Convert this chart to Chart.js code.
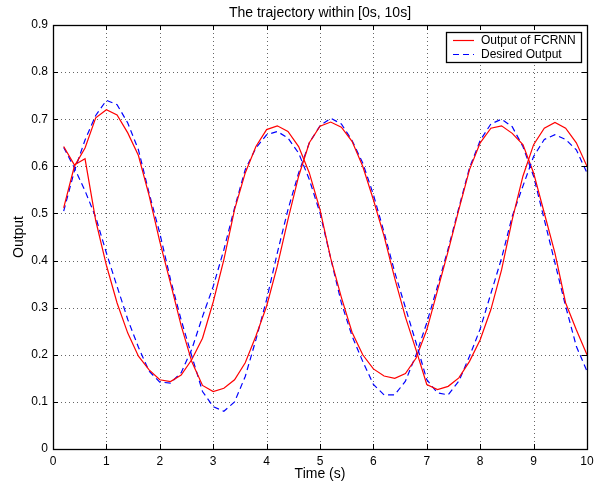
<!DOCTYPE html>
<html>
<head>
<meta charset="utf-8">
<script src="https://cdn.jsdelivr.net/npm/chart.js@4/dist/chart.umd.min.js"></script>
<style>
  html, body { margin: 0; padding: 0; background: #fff; }
  canvas { display: block; }
</style>
</head>
<body>
<canvas id="myChart" width="599" height="484"></canvas>
<script>
// time samples (s)
const tempos = [0.2, 0.4, 0.6, 0.8, 1.0, 1.2, 1.4, 1.6, 1.8, 2.0,
                2.2, 2.4, 2.6, 2.8, 3.0, 3.2, 3.4, 3.6, 3.8, 4.0,
                4.2, 4.4, 4.6, 4.8, 5.0, 5.2, 5.4, 5.6, 5.8, 6.0,
                6.2, 6.4, 6.6, 6.8, 7.0, 7.2, 7.4, 7.6, 7.8, 8.0,
                8.2, 8.4, 8.6, 8.8, 9.0, 9.2, 9.4, 9.6, 9.8, 10.0];

// FCRNN output, first trajectory
const saidaRede1 = [0.512, 0.600, 0.639, 0.703, 0.720, 0.709, 0.671, 0.623, 0.538, 0.440,
                    0.352, 0.262, 0.185, 0.135, 0.122, 0.129, 0.147, 0.183, 0.240, 0.303,
                    0.388, 0.487, 0.579, 0.650, 0.685, 0.694, 0.683, 0.653, 0.600, 0.529,
                    0.452, 0.362, 0.280, 0.210, 0.137, 0.126, 0.133, 0.151, 0.186, 0.232,
                    0.296, 0.380, 0.487, 0.579, 0.646, 0.681, 0.693, 0.681, 0.650, 0.600];

// FCRNN output, second trajectory
const saidaRede2 = [0.642, 0.603, 0.616, 0.485, 0.390, 0.310, 0.246, 0.197, 0.168, 0.147,
                    0.143, 0.157, 0.190, 0.235, 0.312, 0.402, 0.508, 0.586, 0.642, 0.678,
                    0.686, 0.674, 0.642, 0.586, 0.508, 0.405, 0.322, 0.248, 0.200, 0.170,
                    0.155, 0.150, 0.160, 0.193, 0.253, 0.336, 0.420, 0.508, 0.593, 0.650,
                    0.681, 0.686, 0.670, 0.646, 0.586, 0.501, 0.416, 0.310, 0.253, 0.200];

// desired output, first trajectory
const desejada1 = [0.505, 0.590, 0.656, 0.708, 0.740, 0.731, 0.692, 0.635, 0.543, 0.458,
                   0.360, 0.274, 0.197, 0.122, 0.090, 0.080, 0.100, 0.154, 0.232, 0.317,
                   0.416, 0.508, 0.586, 0.650, 0.686, 0.702, 0.690, 0.655, 0.607, 0.540,
                   0.460, 0.375, 0.300, 0.225, 0.147, 0.119, 0.115, 0.144, 0.197, 0.255,
                   0.330, 0.405, 0.494, 0.558, 0.621, 0.657, 0.667, 0.657, 0.635, 0.586];

// desired output, second trajectory
const desejada2 = [0.640, 0.597, 0.548, 0.492, 0.416, 0.345, 0.275, 0.216, 0.165, 0.142,
                   0.140, 0.162, 0.212, 0.281, 0.345, 0.423, 0.512, 0.593, 0.639, 0.667,
                   0.674, 0.660, 0.628, 0.572, 0.501, 0.405, 0.310, 0.240, 0.186, 0.137,
                   0.115, 0.115, 0.144, 0.200, 0.268, 0.345, 0.425, 0.512, 0.597, 0.655,
                   0.690, 0.700, 0.684, 0.642, 0.579, 0.487, 0.395, 0.303, 0.218, 0.165];

const xTicks = [0, 1, 2, 3, 4, 5, 6, 7, 8, 9, 10];
const yTicks = [0, 0.1, 0.2, 0.3, 0.4, 0.5, 0.6, 0.7, 0.8, 0.9];

const nomeRede = 'Output of FCRNN';
const nomeDesejada = 'Desired Output';
const FONTE = '"Liberation Sans", Arial, Helvetica, sans-serif';

function pontos(valores) {
    return tempos.map((t, i) => ({x: t, y: valores[i]}));
}

function serie(label, valores, cor, tracejado) {
    return {
        label: label,
        data: pontos(valores),
        borderColor: cor,
        backgroundColor: cor,
        borderWidth: 1.2,
        borderDash: tracejado ? [6, 4] : [],
        pointRadius: 0,
        tension: 0,
        fill: false
    };
}

// dotted grid (MATLAB "grid on")
const grade = {
    id: 'grade',
    beforeDatasetsDraw(chart) {
        const c = chart.ctx;
        const a = chart.chartArea;
        const sx = chart.scales.x, sy = chart.scales.y;
        c.save();
        c.strokeStyle = 'rgba(0,0,0,0.6)';
        c.lineWidth = 1;
        c.setLineDash([1, 3]);
        c.beginPath();
        xTicks.forEach(v => {
            const px = Math.round(sx.getPixelForValue(v)) + 0.5;
            c.moveTo(px, a.top); c.lineTo(px, a.bottom);
        });
        yTicks.forEach(v => {
            const py = Math.round(sy.getPixelForValue(v)) + 0.5;
            c.moveTo(a.left, py); c.lineTo(a.right, py);
        });
        c.stroke();
        c.restore();
    }
};

// box, inner ticks and legend drawn MATLAB style
const moldura = {
    id: 'moldura',
    afterDraw(chart) {
        const c = chart.ctx;
        const a = chart.chartArea;
        const sx = chart.scales.x, sy = chart.scales.y;
        c.save();
        c.strokeStyle = '#000';
        c.lineWidth = 1;
        c.setLineDash([]);
        c.beginPath();
        xTicks.forEach(v => {
            const px = Math.round(sx.getPixelForValue(v)) + 0.5;
            c.moveTo(px, a.bottom); c.lineTo(px, a.bottom - 5);
            c.moveTo(px, a.top); c.lineTo(px, a.top + 5);
        });
        yTicks.forEach(v => {
            const py = Math.round(sy.getPixelForValue(v)) + 0.5;
            c.moveTo(a.left, py); c.lineTo(a.left + 5, py);
            c.moveTo(a.right, py); c.lineTo(a.right - 5, py);
        });
        c.stroke();
        c.lineWidth = 1.3;
        c.strokeRect(Math.round(a.left) + 0.5, Math.round(a.top) + 0.5,
                     Math.round(a.right - a.left), Math.round(a.bottom - a.top));

        // legend
        const lx = a.right - 141, ly = a.top + 7, lw = 135, lh = 30;
        c.fillStyle = '#fff';
        c.fillRect(lx, ly, lw, lh);
        c.lineWidth = 1.3;
        c.strokeRect(lx + 0.5, ly + 0.5, lw, lh);
        const itens = [
            {txt: nomeRede, cor: '#ff0000', dash: []},
            {txt: nomeDesejada, cor: '#0000ff', dash: [6, 4]}
        ];
        itens.forEach((it, i) => {
            const yy = ly + 8.5 + i * 14;
            c.strokeStyle = it.cor;
            c.lineWidth = 1.2;
            c.setLineDash(it.dash);
            c.beginPath();
            c.moveTo(lx + 7, yy); c.lineTo(lx + 28, yy);
            c.stroke();
            c.setLineDash([]);
            c.fillStyle = '#000';
            c.font = '12px ' + FONTE;
            c.textBaseline = 'middle';
            c.textAlign = 'left';
            c.fillText(it.txt, lx + 35, yy);
        });
        c.restore();
    }
};

const ctx = document.getElementById('myChart').getContext('2d');
const myChart = new Chart(ctx, {
    type: 'line',
    data: {
        datasets: [
            serie(nomeRede, saidaRede1, '#ff0000', false),
            serie(nomeDesejada, desejada1, '#0000ff', true),
            serie(nomeRede, saidaRede2, '#ff0000', false),
            serie(nomeDesejada, desejada2, '#0000ff', true)
        ]
    },
    options: {
        responsive: false,
        animation: false,
        devicePixelRatio: 1,
        layout: {padding: {left: 0, right: 12, top: 0, bottom: 0}},
        plugins: {
            legend: {display: false},
            tooltip: {enabled: false},
            title: {
                display: true,
                fullSize: false,
                text: 'The trajectory within [0s, 10s]',
                color: '#000',
                font: {family: FONTE, size: 14, weight: 'normal'},
                padding: {top: 4.5, bottom: 3.7}
            }
        },
        scales: {
            x: {
                type: 'linear',
                min: 0,
                max: 10,
                afterBuildTicks: s => { s.ticks = xTicks.map(v => ({value: v})); },
                afterFit: s => { s.height = 35; },
                ticks: {
                    color: '#000',
                    font: {family: FONTE, size: 12},
                    padding: 5,
                    maxRotation: 0,
                    callback: v => String(v)
                },
                grid: {display: false, drawTicks: false},
                border: {display: false},
                title: {
                    display: true,
                    text: 'Time (s)',
                    color: '#000',
                    font: {family: FONTE, size: 14},
                    padding: {top: 0, bottom: 1}
                }
            },
            y: {
                min: 0,
                max: 0.9,
                afterBuildTicks: s => { s.ticks = yTicks.map(v => ({value: v})); },
                afterFit: s => { s.width = 53; },
                ticks: {
                    color: '#000',
                    font: {family: FONTE, size: 12},
                    padding: 5,
                    callback: v => (v === 0 ? '0' : v.toFixed(1))
                },
                grid: {display: false, drawTicks: false},
                border: {display: false},
                title: {
                    display: true,
                    text: 'Output',
                    color: '#000',
                    font: {family: FONTE, size: 14},
                    padding: {top: 11, bottom: 0}
                }
            }
        }
    },
    plugins: [grade, moldura]
});
</script>
</body>
</html>
